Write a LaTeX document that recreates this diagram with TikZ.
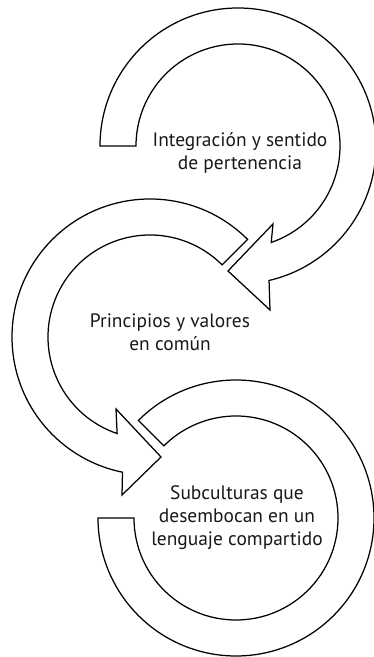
\documentclass[tikz,border=0pt]{standalone}
\usepackage{fontspec}
\setmainfont{PT Sans}
\usetikzlibrary{calc}
\begin{document}
\begin{tikzpicture}[x=1bp,y=1bp,
  ring/.style={draw=black, line width=1.25bp, fill=white, line join=miter},
  txt/.style={font=\fontsize{19.5}{23}\selectfont, align=center, text=black!90, inner sep=0pt}]
\useasboundingbox (0,0) rectangle (373,657);
\coordinate (c1) at (238,511);
\coordinate (c2) at (150,320);
\coordinate (c3) at (236,139);
% arrow 1 (top)
\draw[ring] ($(c1)+(180:138)$) arc[start angle=180, end angle=-77, radius=138]
  -- (270,347) -- (228,386) -- (273,433)
  -- ($(c1)+(-71:102)$) arc[start angle=-71, end angle=180, radius=102] -- cycle;
% arrow 2 (middle)
\draw[ring] ($(c2)+(45:138)$) arc[start angle=45, end angle=258.5, radius=138]
  -- (122,162) -- (161,200) -- (116,248)
  -- ($(c2)+(251.2:102)$) arc[start angle=251.2, end angle=45, radius=102] -- cycle;
% arrow 3 (bottom)
\draw[ring] ($(c3)+(135:138)$) arc[start angle=135, end angle=-180, radius=138]
  -- ($(c3)+(180:102)$) arc[start angle=-180, end angle=135, radius=102] -- cycle;
\node[txt] (t1) at (240,503.6) {Integración y sentido\\de pertenencia};
\node[txt] (t2) at (170,324.6) {Principios y valores\\en común};
\node[txt] (t3) at (237,139.2) {Subculturas que\\desembocan en un\\lenguaje compartido};
\end{tikzpicture}
\end{document}
